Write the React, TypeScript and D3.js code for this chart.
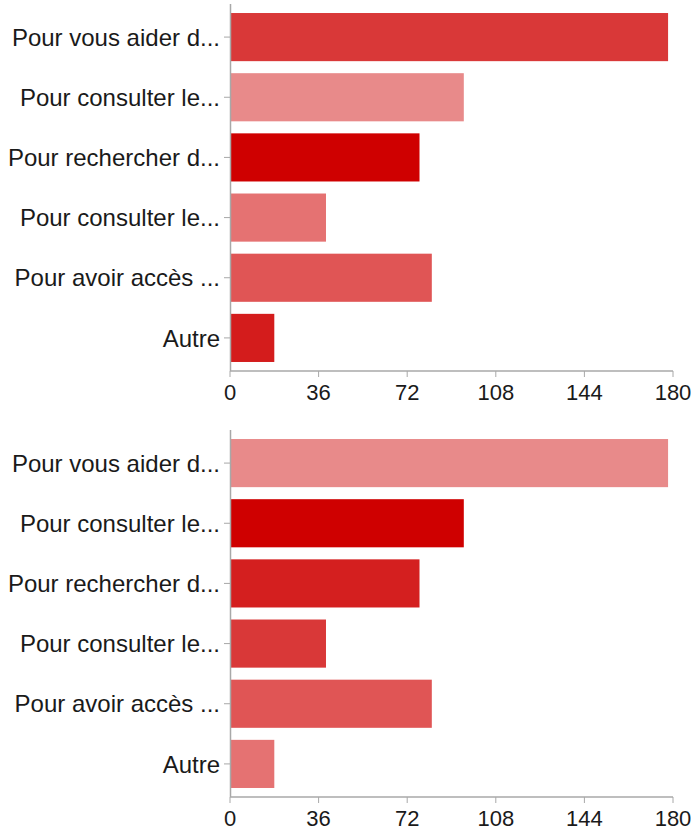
import React, { useEffect, useRef } from "react";
import * as d3 from "d3";

const categories = [
  "Pour vous aider d...",
  "Pour consulter le...",
  "Pour rechercher d...",
  "Pour consulter le...",
  "Pour avoir accès ...",
  "Autre",
];
const values = [178, 95, 77, 39, 82, 18];
const ticks = [0, 36, 72, 108, 144, 180];
const colorsTop = ["#d93838", "#e88a8a", "#cf0000", "#e57272", "#e05555", "#d41c1c"];
const colorsBottom = ["#e88a8a", "#cf0000", "#d41f1f", "#d93838", "#e05555", "#e57272"];

const W = 699;
const H = 836;

export default function App() {
  const ref = useRef<SVGSVGElement | null>(null);

  useEffect(() => {
    document.body.style.margin = "0";
    const svg = d3.select(ref.current);
    svg.selectAll("*").remove();

    const x = d3.scaleLinear().domain([0, 180]).range([230, 673]);
    const font = "'Liberation Sans', Arial, Helvetica, sans-serif";

    const drawChart = (offset: number, colors: string[]) => {
      const g = svg.append("g").attr("transform", `translate(0,${offset})`);
      const y = d3
        .scaleBand<number>()
        .domain(d3.range(categories.length))
        .range([4, 371])
        .paddingInner(0.2)
        .paddingOuter(0.15);
      const axisY = 371;

      g.selectAll("rect.bar")
        .data(values)
        .enter()
        .append("rect")
        .attr("class", "bar")
        .attr("x", x(0))
        .attr("y", (_d, i) => y(i)!)
        .attr("width", (d) => x(d) - x(0))
        .attr("height", y.bandwidth())
        .attr("fill", (_d, i) => colors[i]);

      g.append("line")
        .attr("x1", 230.5)
        .attr("x2", 230.5)
        .attr("y1", 4)
        .attr("y2", axisY)
        .attr("stroke", "#a8a8a8")
        .attr("stroke-width", 1.5);
      categories.forEach((c, i) => {
        const cy = y(i)! + y.bandwidth() / 2;
        g.append("line")
          .attr("x1", 224)
          .attr("x2", 230)
          .attr("y1", cy)
          .attr("y2", cy)
          .attr("stroke", "#a8a8a8")
          .attr("stroke-width", 1);
        g.append("text")
          .attr("x", 220)
          .attr("y", cy)
          .attr("dy", "0.36em")
          .attr("text-anchor", "end")
          .attr("font-family", font)
          .attr("font-size", 24)
          .attr("fill", "#1a1a1a")
          .text(c);
      });

      g.append("line")
        .attr("x1", 230)
        .attr("x2", x(180))
        .attr("y1", axisY)
        .attr("y2", axisY)
        .attr("stroke", "#a8a8a8")
        .attr("stroke-width", 1.5);
      ticks.forEach((t) => {
        g.append("line")
          .attr("x1", x(t))
          .attr("x2", x(t))
          .attr("y1", axisY)
          .attr("y2", axisY + 6)
          .attr("stroke", "#a8a8a8")
          .attr("stroke-width", 1);
        g.append("text")
          .attr("x", x(t))
          .attr("y", axisY + 29)
          .attr("text-anchor", "middle")
          .attr("font-family", font)
          .attr("font-size", 22)
          .attr("fill", "#1a1a1a")
          .text(String(t));
      });
    };

    drawChart(0, colorsTop);
    drawChart(426, colorsBottom);
  }, []);

  return (
    <svg
      ref={ref}
      width={W}
      height={H}
      style={{ position: "absolute", left: 0, top: 0, display: "block", background: "#fff" }}
    />
  );
}
